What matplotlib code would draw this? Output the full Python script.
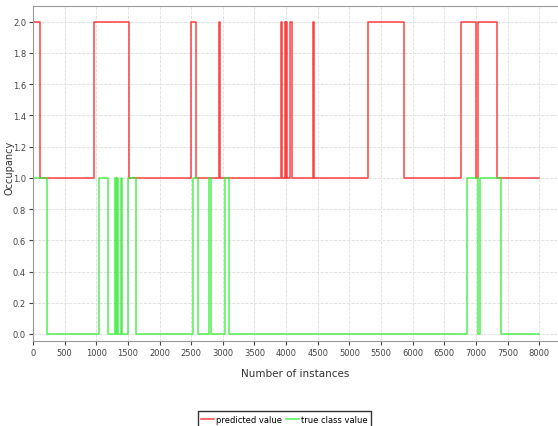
import matplotlib
matplotlib.use('Agg')
from matplotlib import pyplot as plt

# change points (step series)
red_x = [0, 110, 960, 1515, 2490, 2575, 2935, 2955, 3920, 3935, 3975, 3990, 4005,
         4020, 4055, 4085, 4425, 4440, 5300, 5870, 6760, 7000, 7030, 7330, 8000]
red_y = [2, 1, 2, 1, 2, 1, 2, 1, 2, 1, 2, 1, 2,
         1, 2, 1, 2, 1, 2, 1, 2, 1, 2, 1, 1]

green_x = [0, 220, 1050, 1185, 1300, 1315, 1330, 1345, 1385, 1400, 1505, 1620,
           2530, 2600, 2775, 2815, 3030, 3095, 6850, 7030, 7070, 7390, 8000]
green_y = [1, 0, 1, 0, 1, 0, 1, 0, 1, 0, 1, 0,
           1, 0, 1, 0, 1, 0, 1, 0, 1, 0, 0]

x_ticks = list(range(0, 8001, 500))
y_ticks = [0.0, 0.2, 0.4, 0.6, 0.8, 1.0, 1.2, 1.4, 1.6, 1.8, 2.0]

fig = plt.figure(figsize=(5.58, 4.27), dpi=100)
ax = fig.add_axes([33 / 558, 85 / 427, 524 / 558, 335 / 427])

ax.step(red_x, red_y, where='post', color='#ff2020', lw=1.1, alpha=0.85,
        label='predicted value')
ax.step(green_x, green_y, where='post', color='#33ee33', lw=1.1, alpha=0.85,
        label='true class value')

ax.set_xlim(0, 8280)
ax.set_ylim(-0.045, 2.1)
ax.set_xticks(x_ticks)
ax.set_yticks(y_ticks)
ax.set_yticklabels(['{:.1f}'.format(v) for v in y_ticks])
ax.tick_params(labelsize=6, colors='#444444', length=3, pad=2)
ax.grid(True, color='#dddddd', linestyle='--', lw=0.6)

for side in ['top', 'bottom', 'left']:
    ax.spines[side].set_color('#999999')
ax.spines['right'].set_visible(False)

ax.set_xlabel('Number of instances', fontsize=7.5, color='#333333', labelpad=8)
ax.set_ylabel('Occupancy', fontsize=7, color='#333333')
ax.yaxis.set_label_coords(-0.036, 0.52)

leg = fig.legend(loc='lower center', bbox_to_anchor=(0.51, -0.012), ncol=2,
                 fontsize=6, frameon=True, fancybox=False, handlelength=1.5,
                 columnspacing=0.5, handletextpad=0.3)
leg.get_frame().set_edgecolor('black')

fig.savefig('out.png', dpi=100)
